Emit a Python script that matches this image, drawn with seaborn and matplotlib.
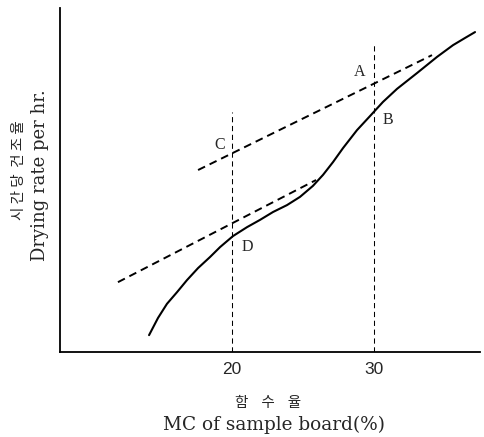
# drying_rate_curve.py

import matplotlib
matplotlib.use("Agg")
import matplotlib.pyplot as plt
import seaborn as sns

# Courbe principale : taux de sechage en fonction de l'humidite
mc_curve = [14.16, 14.79, 15.42, 16.13, 16.83, 17.61, 18.45, 19.16, 20.07,
            21.06, 21.97, 22.89, 23.87, 24.79, 25.70, 26.41, 27.11, 27.82,
            28.80, 29.72, 30.63, 31.62, 33.03, 34.44, 35.56, 36.41, 37.11]
rate_curve = [0.49, 0.99, 1.40, 1.74, 2.09, 2.44, 2.76, 3.05, 3.37,
              3.63, 3.84, 4.07, 4.27, 4.51, 4.83, 5.15, 5.52, 5.93,
              6.45, 6.86, 7.27, 7.65, 8.11, 8.58, 8.92, 9.13, 9.30]

# Tangentes en tirets
mc_upper = [17.61, 34.08]
rate_upper = [5.29, 8.63]
mc_lower = [11.97, 25.92]
rate_lower = [2.03, 5.00]

# Verticales de reference
mc_ref = [20, 30]
rate_ref_top = [6.98, 8.98]

# Points nommes
point_names = ["A", "B", "C", "D"]
point_x = [29.01, 30.99, 19.15, 21.06]
point_y = [8.14, 6.74, 6.02, 3.05]

tick_values = [20, 30]
tick_labels = ["20", "30"]


def main():
    sns.set_style("white")
    plt.rcParams["font.family"] = ["DejaVu Serif", "Noto Sans CJK KR"]

    fig = plt.figure(figsize=(4.85, 4.37), dpi=100)
    ax = fig.add_axes([60 / 485, 85 / 437, 420 / 485, 344 / 437])

    sns.lineplot(x=mc_curve, y=rate_curve, ax=ax, color="black", lw=1.5,
                 estimator=None, sort=False)
    sns.lineplot(x=mc_upper, y=rate_upper, ax=ax, color="black", lw=1.4,
                 linestyle=(0, (4, 2.6)), estimator=None, sort=False)
    sns.lineplot(x=mc_lower, y=rate_lower, ax=ax, color="black", lw=1.4,
                 linestyle=(0, (4, 2.6)), estimator=None, sort=False)
    for xv, top in zip(mc_ref, rate_ref_top):
        sns.lineplot(x=[xv, xv], y=[0, top], ax=ax, color="black", lw=0.75,
                     linestyle=(0, (5, 3.5)), estimator=None, sort=False)

    for name, px, py in zip(point_names, point_x, point_y):
        ax.text(px, py, name, ha="center", va="center", fontsize=11.5,
                family="Liberation Serif")

    ax.set_xlim(7.89, 37.46)
    ax.set_ylim(0, 10)
    ax.set_xticks(tick_values)
    ax.set_xticklabels(tick_labels, family="Liberation Sans", fontsize=12.5)
    ax.set_yticks([])
    ax.tick_params(axis="x", direction="in", length=3, width=1, pad=7)
    ax.set_xlabel("")
    ax.set_ylabel("")

    sns.despine(ax=ax)
    for side in ["left", "bottom"]:
        ax.spines[side].set_color("black")
        ax.spines[side].set_linewidth(1.3)

    # Titres des axes (coreen + anglais)
    fig.text(268 / 485, 1 - 403 / 437, "함    수    율", ha="center",
             va="center", fontsize=10.5, family=["Noto Sans CJK KR"])
    fig.text(274 / 485, 1 - 425 / 437, "MC of sample board(%)", ha="center",
             va="center", fontsize=13.3)
    fig.text(19 / 485, 1 - 170 / 437, "시 간 당  건 조 율", ha="center",
             va="center", rotation=90, fontsize=10.5,
             family=["Noto Sans CJK KR"])
    fig.text(40 / 485, 1 - 175 / 437, "Drying rate per hr.", ha="center",
             va="center", rotation=90, fontsize=13)

    fig.savefig("out.png", dpi=100)


if __name__ == "__main__":
    main()
